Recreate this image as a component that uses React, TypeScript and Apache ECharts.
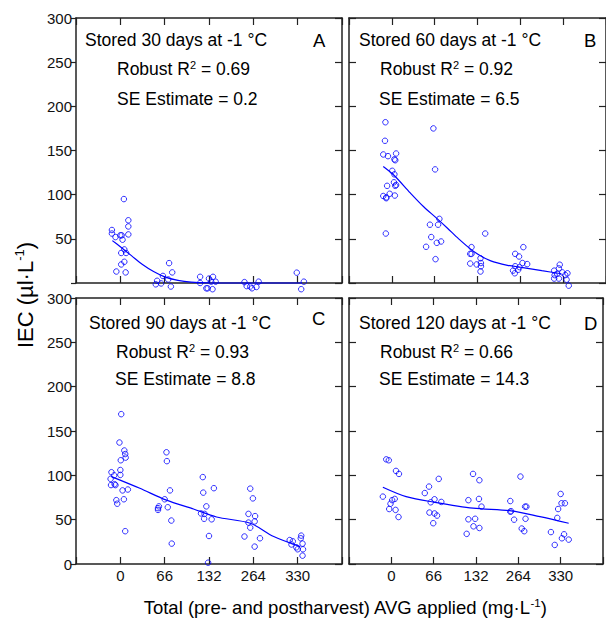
import React, { useEffect, useRef } from "react";
import * as echarts from "echarts";

const FONT = "'Liberation Sans', Arial, sans-serif";
const xTickLabels = ["0", "66", "132", "264", "330"];

// Panel A: stored 30 days
const aX = [0.81, 0.81, 0.89, 1.0, 1.03, 1.05, 1.09, 1.02, 1.13, 1.02, 1.09, 0.91, 1.12, 1.08, 1.18, 1.18, 1.18,
  1.8, 1.83, 1.92, 1.96, 2.08, 2.1, 2.17, 2.14,
  2.8, 2.8, 2.94, 2.97, 3.0, 3.05, 3.09, 3.15, 3.08,
  3.8, 3.85, 3.93, 3.97, 4.07, 4.12,
  4.98, 5.14, 5.08];
const aY = [60, 56, 52, 54, 54, 49, 38, 34, 34, 21, 24, 13, 12, 95, 71, 64, 55,
  -1.5, 2.5, -0.5, 8, 4, 22.5, 12, -4,
  7, 0, -6, -6, 5, 1.5, 7, 1.5, -7,
  1, -3.5, -4, -6, -4.5, 1.5,
  11.7, 1.5, -7];
const aFitX = [0.82, 1.0, 1.25, 1.5, 1.75, 2.0, 2.3, 2.6, 3.0, 4.0, 5.1];
const aFitY = [48, 41, 31, 21, 13, 7, 3, 1, 0.2, 0, 0];

// Panel B: stored 60 days
const bX = [0.85, 0.84, 0.8, 0.91, 1.1, 1.06, 1.08, 1.01, 1.06, 1.05, 1.1, 1.08, 0.89, 0.8, 0.87, 0.87, 0.95, 1.07, 0.86,
  1.97, 2.01, 2.11, 2.08, 1.89, 1.92, 2.15, 2.05, 1.8, 2.02,
  3.18, 2.86, 2.83, 2.86, 3.07, 2.83, 2.98, 3.08, 3.08, 3.07,
  4.07, 3.88, 3.97, 4.05, 4.16, 3.88, 3.98, 3.83, 3.95, 3.87,
  4.92, 4.9, 4.79, 4.98, 5.1, 4.8, 4.86, 5.05, 4.79, 4.9, 5.08, 5.13];
const bY = [182, 161, 145.5, 143.6, 146.6, 140, 139, 127, 123, 114, 111, 110, 110, 98.5, 97, 96, 101, 99, 56,
  175, 128.6, 72.6, 66, 66, 52, 47, 45.5, 41, 27,
  56, 40.6, 33, 33, 28, 22, 21, 22.6, 19, 13,
  40.6, 33, 30, 22.6, 21.4, 19, 18, 14, 15, 11,
  20.7, 16.5, 14, 12, 11, 9, 10.5, 9, 5, 5, 3.8, -3];
const bFitX = [0.8, 1.05, 1.43, 1.75, 2.03, 2.3, 2.56, 2.93, 3.31, 3.7, 4.06, 4.5, 4.96];
const bFitY = [132, 122, 102, 86, 74, 62, 50, 35, 25, 20, 17.5, 14, 10.5];

// Panel C: stored 90 days
const cX = [1.02, 0.98, 1.09, 1.11, 1.12, 1.01, 1.0, 0.8, 1.0, 0.86, 0.78, 0.79, 0.87, 0.89, 1.05, 1.17, 0.91, 1.08, 0.93, 1.11,
  2.04, 2.05, 2.12, 2.0, 1.87, 1.85, 1.85, 2.07, 2.15, 2.16,
  2.86, 2.87, 3.11, 2.94, 2.82, 2.9, 2.89, 3.06, 3.0, 2.98,
  3.93, 3.99, 3.89, 4.04, 3.89, 4.03, 3.93, 3.8, 4.15, 4.03,
  5.08, 5.07, 4.82, 4.89, 4.86, 5.11, 4.97, 5.0, 5.12, 5.11];
const cY = [169, 137, 128, 124, 120, 117, 106, 103.5, 100.5, 100, 96, 89, 90, 89, 83, 84, 72, 73, 68, 37,
  126, 116, 83, 73, 65, 61, 63, 64, 49, 23,
  98, 80.5, 85.5, 65, 57, 56.5, 51, 50.4, 31.6, 1.5,
  85, 74, 56.5, 54, 46.7, 48, 41, 31, 29, 19.6,
  32, 29, 27, 25.6, 22, 23, 18.8, 16.6, 16.6, 9.4];
const cFitX = [0.8, 1.44, 2.04, 2.65, 3.17, 3.93, 4.46, 5.06];
const cFitY = [98.6, 85.4, 72, 62, 53, 46, 31, 19.6];

// Panel D: stored 120 days
const dX = [0.88, 0.94, 1.11, 1.18, 0.8, 1.08, 1.02, 0.98, 0.95, 1.1, 1.17,
  2.12, 1.89, 1.79, 2.02, 2.18, 1.93, 1.9, 2.02, 2.08, 1.99,
  2.93, 3.08, 2.82, 3.07, 3.13, 2.82, 2.98, 2.94, 3.08, 2.78,
  4.05, 3.81, 3.81, 3.83, 4.16, 4.19, 3.9, 4.17, 4.08, 4.14,
  5.0, 5.02, 5.1, 4.94, 4.92, 4.77, 5.08, 5.03, 5.19, 4.86];
const dY = [118, 117, 105, 101.6, 76, 73.4, 72, 68, 62, 61, 53,
  96, 87.3, 80, 73, 70, 69.6, 58, 57, 54.6, 46,
  101.6, 94.5, 72, 73.4, 64.7, 50.4, 51, 42.5, 40.6, 34,
  98.6, 71, 59, 59.5, 64.7, 64.7, 50, 51, 40, 37,
  79, 68.5, 68.5, 62, 52, 36, 33.5, 29, 27.5, 21.5];
const dFitX = [0.8, 1.35, 2.03, 2.93, 3.83, 4.51, 5.19];
const dFitY = [86.6, 76, 69.6, 63, 60, 53.4, 46];

const panelTitles = ["Stored 30 days at -1 °C", "Stored 60 days at -1 °C", "Stored 90 days at -1 °C", "Stored 120 days at -1 °C"];
const panelLetters = ["A", "B", "C", "D"];
const robustR2 = ["0.69", "0.92", "0.93", "0.66"];
const seEstimates = ["0.2", "6.5", "8.8", "14.3"];

const panels = [
  { x: aX, y: aY, fx: aFitX, fy: aFitY },
  { x: bX, y: bY, fx: bFitX, fy: bFitY },
  { x: cX, y: cY, fx: cFitX, fy: cFitY },
  { x: dX, y: dY, fx: dFitX, fy: dFitY },
];

const zip = (xs: number[], ys: number[]) => xs.map((v, i) => [v, ys[i]]);

const FRAME = "#222";

export default function App() {
  const ref = useRef<HTMLDivElement>(null);
  useEffect(() => {
    if (!ref.current) return;
    const chart = echarts.init(ref.current, undefined, { renderer: "svg" });

    const grids = [
      { left: 76, top: 18, width: 266, height: 265 },
      { left: 349, top: 18, width: 266, height: 265 },
      { left: 76, top: 298, width: 266, height: 266 },
      { left: 349, top: 298, width: 266, height: 266 },
    ];

    const axisLine = { show: true, onZero: false, lineStyle: { color: FRAME, width: 1.5 } };
    const tickStyle = { color: FRAME, width: 1.2 };
    const labelBase = { fontSize: 15, color: "#111", fontFamily: FONT };

    const xAxis: any[] = [];
    const yAxis: any[] = [];
    grids.forEach((_, gi) => {
      const bottomRow = gi >= 2;
      const leftCol = gi % 2 === 0;
      xAxis.push({
        type: "value", gridIndex: gi, min: 0, max: 6, interval: 1, position: "bottom",
        axisLine, splitLine: { show: false },
        axisTick: { show: true, inside: true, length: 7, lineStyle: tickStyle },
        axisLabel: {
          show: bottomRow, ...labelBase, margin: 4,
          formatter: (v: number) => (v >= 1 && v <= 5 ? xTickLabels[Math.round(v) - 1] : ""),
        },
      });
      xAxis.push({
        type: "value", gridIndex: gi, min: 0, max: 6, interval: 1, position: "top",
        axisLine, splitLine: { show: false },
        axisTick: { show: true, inside: true, length: 7, lineStyle: tickStyle },
        axisLabel: { show: false },
      });
      yAxis.push({
        type: "value", gridIndex: gi, min: 0, max: 300, interval: 50, position: "left",
        axisLine, splitLine: { show: false },
        axisTick: { show: true, inside: !leftCol, length: leftCol ? 5 : 7, lineStyle: tickStyle },
        axisLabel: {
          show: leftCol, ...labelBase, margin: 4,
          formatter: (v: number) => (gi === 0 && v === 0 ? "" : String(v)),
        },
      });
      yAxis.push({
        type: "value", gridIndex: gi, min: 0, max: 300, interval: 50, position: "right",
        axisLine, splitLine: { show: false },
        axisTick: { show: true, inside: true, length: 7, lineStyle: tickStyle },
        axisLabel: { show: false },
      });
    });

    const series: any[] = [];
    panels.forEach((p, i) => {
      series.push({
        type: "scatter", xAxisIndex: 2 * i, yAxisIndex: 2 * i,
        data: zip(p.x, p.y), symbol: "circle", symbolSize: 5.5, clip: false, silent: true,
        itemStyle: { color: "rgba(0,0,0,0)", borderColor: "#0000ff", borderWidth: 1 },
      });
      series.push({
        type: "line", xAxisIndex: 2 * i, yAxisIndex: 2 * i,
        data: zip(p.fx, p.fy), smooth: 0.3, symbol: "none", silent: true, clip: false,
        lineStyle: { color: "#0000ff", width: 1.2 },
      });
    });

    const txt = (x: number, y: number, text: string, size: number, extra: any = {}) => ({
      type: "text", x, y, silent: true,
      style: {
        text, fontSize: size, fontFamily: FONT, fill: "#000",
        align: "left", textAlign: "left", verticalAlign: "middle", textVerticalAlign: "middle",
        ...extra,
      },
    });

    const richR2 = (x: number, y: number, val: string) => ({
      type: "text", x, y, silent: true,
      style: {
        text: `{m|Robust R}{s|2}{m| = ${val}}`,
        fontSize: 17.5, fontFamily: FONT, fill: "#000",
        align: "left", textAlign: "left", verticalAlign: "middle", textVerticalAlign: "middle",
        rich: {
          m: { fontSize: 17.5, fontFamily: FONT, fill: "#000", lineHeight: 20 },
          s: { fontSize: 11, fontFamily: FONT, fill: "#000", lineHeight: 12, verticalAlign: "top" },
        },
      },
    });

    const pos = [
      { title: [85, 40], letter: [313, 40], r2: [117, 69], se: [117, 99] },
      { title: [359, 40], letter: [584, 40], r2: [380, 69], se: [379, 99] },
      { title: [89, 323], letter: [312, 318], r2: [116, 352], se: [115, 379] },
      { title: [359, 323], letter: [584, 323], r2: [380, 352], se: [379, 379] },
    ];

    const elements: any[] = [];
    pos.forEach((p, i) => {
      elements.push(txt(p.title[0], p.title[1], panelTitles[i], 17.5));
      elements.push(txt(p.letter[0], p.letter[1], panelLetters[i], 18.5));
      elements.push(richR2(p.r2[0], p.r2[1], robustR2[i]));
      elements.push(txt(p.se[0], p.se[1], `SE Estimate = ${seEstimates[i]}`, 17.5));
    });

    elements.push({
      type: "text", x: 345, y: 607, silent: true,
      style: {
        text: "{m|Total (pre- and postharvest) AVG applied (mg·L}{s|-1}{m|)}",
        fontSize: 18.5, fontFamily: FONT, fill: "#000",
        align: "center", textAlign: "center", verticalAlign: "middle", textVerticalAlign: "middle",
        rich: {
          m: { fontSize: 18.5, fontFamily: FONT, fill: "#000", lineHeight: 21 },
          s: { fontSize: 11.5, fontFamily: FONT, fill: "#000", lineHeight: 12, verticalAlign: "top" },
        },
      },
    });
    elements.push({
      type: "text", x: 25, y: 295, rotation: Math.PI / 2, silent: true,
      style: {
        text: "{m|IEC (µl·L}{s|-1}{m|)}",
        fontSize: 22, fontFamily: FONT, fill: "#000",
        align: "center", textAlign: "center", verticalAlign: "middle", textVerticalAlign: "middle",
        rich: {
          m: { fontSize: 22, fontFamily: FONT, fill: "#000", lineHeight: 25 },
          s: { fontSize: 13, fontFamily: FONT, fill: "#000", lineHeight: 14, verticalAlign: "top" },
        },
      },
    });

    chart.setOption({
      animation: false,
      backgroundColor: "#fff",
      grid: grids.map((g) => ({ ...g, containLabel: false })),
      xAxis,
      yAxis,
      series,
      graphic: { elements },
    });
    return () => chart.dispose();
  }, []);

  return <div ref={ref} style={{ position: "fixed", left: 0, top: 0, width: 606, height: 618 }} />;
}
